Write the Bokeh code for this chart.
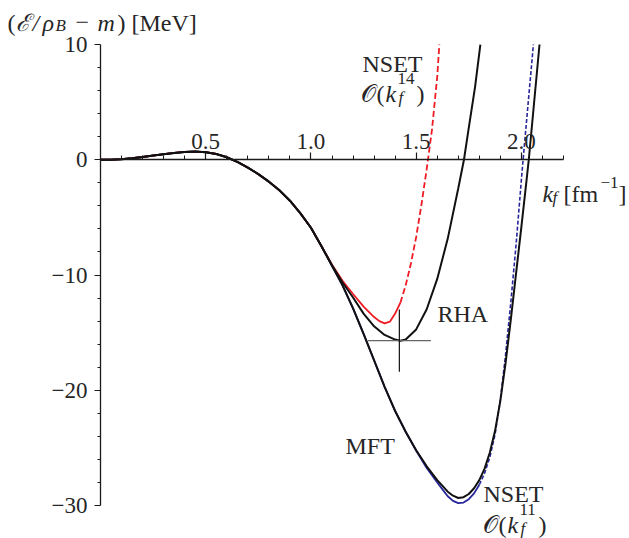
from bokeh.plotting import figure
from bokeh.models import FixedTicker, Label, Range1d
from bokeh.embed import file_html
from bokeh.resources import INLINE

# ---- data ----
# region where all four curves coincide
k_common = [0.00, 0.05, 0.10, 0.15, 0.20, 0.25, 0.30, 0.35, 0.40, 0.45, 0.50,
            0.55, 0.60, 0.65, 0.70, 0.75, 0.80, 0.85, 0.90, 0.95, 1.00, 1.05]
e_common = [0.00, 0.01, 0.05, 0.13, 0.24, 0.36, 0.48, 0.59, 0.68, 0.71, 0.66,
            0.50, 0.22, -0.18, -0.68, -1.25, -1.90, -2.65, -3.55, -4.65, -5.90, -7.50]

# MFT
k_mft = [1.10, 1.15, 1.20, 1.25, 1.30, 1.35, 1.40, 1.45, 1.50, 1.55, 1.60, 1.625,
         1.65, 1.675, 1.70, 1.725, 1.75, 1.775, 1.80, 1.825, 1.85, 1.875, 1.90,
         1.925, 1.95, 1.975, 2.00, 2.02, 2.035, 2.06, 2.086]
e_mft = [-9.20, -10.90, -12.90, -15.10, -17.40, -19.70, -21.80, -23.60, -25.20,
         -26.60, -27.80, -28.30, -28.80, -29.15, -29.35, -29.28, -29.00, -28.50,
         -27.80, -26.80, -25.40, -23.50, -20.90, -17.60, -13.80, -9.80, -5.80,
         -2.50, 0.00, 4.90, 10.00]

# RHA
k_rha = [1.10, 1.15, 1.20, 1.25, 1.30, 1.35, 1.40, 1.425, 1.45, 1.50, 1.55, 1.60,
         1.65, 1.70, 1.727, 1.75, 1.78, 1.805]
e_rha = [-9.15, -10.65, -11.95, -13.35, -14.45, -15.20, -15.60, -15.70, -15.59,
         -14.72, -12.97, -10.34, -6.84, -2.47, 0.00, 2.78, 6.35, 10.00]

# NSET O(k_f^14)
k_n14 = [1.10, 1.15, 1.20, 1.25, 1.30, 1.325, 1.35, 1.375, 1.40, 1.425, 1.45,
         1.475, 1.50, 1.525, 1.55, 1.575, 1.60, 1.61]
e_n14 = [-9.10, -10.50, -11.65, -12.75, -13.65, -14.00, -14.20, -14.05, -13.35,
         -12.40, -10.90, -9.00, -6.70, -3.90, -0.80, 2.60, 7.20, 10.00]
n14_solid_until = 1.425

# NSET O(k_f^11)
k_n11 = [1.10, 1.15, 1.20, 1.25, 1.30, 1.35, 1.40, 1.45, 1.50, 1.55, 1.60, 1.625,
         1.65, 1.675, 1.70, 1.725, 1.75, 1.775, 1.80, 1.825, 1.85, 1.875, 1.90,
         1.925, 1.95, 1.975, 2.00, 2.008, 2.03, 2.057]
e_n11 = [-9.20, -10.90, -12.90, -15.10, -17.40, -19.70, -21.80, -23.60, -25.25,
         -26.75, -28.00, -28.60, -29.20, -29.60, -29.80, -29.75, -29.45, -28.95,
         -28.20, -27.20, -25.80, -23.80, -20.80, -16.90, -12.30, -7.30, -1.70,
         0.00, 4.50, 10.00]
n11_solid_until = 1.80

# RHA minimum with uncertainty cross
rha_min_k = 1.42
rha_min_e = -15.7
rha_dk = 0.15
rha_de = 2.7

x_ticks = [0.5, 1.0, 1.5, 2.0]
x_tick_labels = ["0.5", "1.0", "1.5", "2.0"]
x_minor = [round(0.1 * i, 1) for i in range(1, 23)]
x_axis_extent = (0.0, 2.2)
y_ticks = [-30, -20, -10, 0, 10]
y_tick_labels = ["\u221230", "\u221220", "\u221210", "0", "10"]
y_minor = [-28, -26, -24, -22, -18, -16, -14, -12, -8, -6, -4, -2, 2, 4, 6, 8]
y_axis_extent = (-30.0, 10.0)

FONT = "Liberation Serif"
TXT = "#262626"
MAIN = 24
SMALL = 17

W, H = 629, 538
# view window (frame fills the whole canvas; the axes cross at the origin)
p = figure(width=W, height=H, output_backend="svg", toolbar_location=None,
           x_range=Range1d(-0.4752, 2.5136), y_range=Range1d(-32.863, 13.818),
           x_axis_location="above", min_border=0)
p.outline_line_color = None
p.xgrid.visible = False
p.ygrid.visible = False
p.background_fill_color = "white"
p.border_fill_color = "white"

xa = p.xaxis[0]
xa.fixed_location = 0
xa.bounds = x_axis_extent
xa.ticker = FixedTicker(ticks=x_ticks, minor_ticks=x_minor)
xa.major_label_overrides = dict(zip(x_ticks, x_tick_labels))
ya = p.yaxis[0]
ya.fixed_location = 0
ya.bounds = y_axis_extent
ya.ticker = FixedTicker(ticks=y_ticks, minor_ticks=y_minor)
ya.major_label_overrides = dict(zip(y_ticks, y_tick_labels))
for ax in (xa, ya):
    ax.axis_line_color = "#1a1a1a"
    ax.axis_line_width = 1.3
    ax.major_tick_line_color = "#1a1a1a"
    ax.minor_tick_line_color = "#1a1a1a"
    ax.major_tick_line_width = 1.2
    ax.minor_tick_line_width = 1.0
    ax.major_tick_in = 0
    ax.minor_tick_in = 0
    ax.major_label_text_font = FONT
    ax.major_label_text_font_size = "23px"
    ax.major_label_text_color = TXT
xa.major_tick_out = 7
xa.minor_tick_out = 4
xa.major_label_standoff = 4
ya.major_tick_out = 6
ya.minor_tick_out = 3
ya.major_label_standoff = 7

# ---- curves ----
def split(ks, es, kcut):
    a_k = [k for k in ks if k <= kcut]
    a_e = es[:len(a_k)]
    b_k = ks[len(a_k) - 1:]
    b_e = es[len(a_k) - 1:]
    return a_k, a_e, b_k, b_e

BLUE = "#26269a"
RED = "#ee1b24"
bk, be, bk2, be2 = split(k_common + k_n11, e_common + e_n11, n11_solid_until)
p.line(bk, be, line_color=BLUE, line_width=1.8)
p.line(bk2, be2, line_color=BLUE, line_width=1.6, line_dash="4 2")

rk, re_, rk2, re2 = split(k_common + k_n14, e_common + e_n14, n14_solid_until)
p.line(rk, re_, line_color=RED, line_width=1.8)
p.line(rk2, re2, line_color=RED, line_width=1.8, line_dash="6 3")

p.line(k_common + k_mft, e_common + e_mft, line_color="#111111", line_width=2)
p.line(k_common + k_rha, e_common + e_rha, line_color="#111111", line_width=2)

# uncertainty cross at RHA minimum
p.segment(x0=[rha_min_k - rha_dk], y0=[rha_min_e], x1=[rha_min_k + rha_dk], y1=[rha_min_e],
          line_color="#666666", line_width=1.2)
p.segment(x0=[rha_min_k], y0=[rha_min_e + rha_de], x1=[rha_min_k], y1=[rha_min_e - rha_de],
          line_color="#111111", line_width=1.2)

# ---- text (screen units, from the canvas' top-left corner) ----
def txt(px, py, s, size=MAIN, style="normal"):
    p.add_layout(Label(x=px, y=H - py, x_units="screen", y_units="screen", text=s,
                       text_font=FONT, text_font_size=f"{size}px",
                       text_font_style=style, text_color=TXT,
                       text_baseline="alphabetic", text_align="left"))

# y-axis title (top-left)
ty = 22
txt(7, ty, "(")
txt(15, ty, "\u2130", style="italic")
txt(32, ty, "/", style="italic")
txt(42, ty, "\u03c1", style="italic")
txt(55, ty + 3, "B", size=SMALL, style="italic")
txt(75, ty, "\u2212")
txt(97, ty, "m", style="italic")
txt(117, ty, ") [MeV]")

# x-axis title
txt(542, 193, "k", style="italic")
txt(552, 197, "f", size=SMALL, style="italic")
txt(563, 193, "[fm")
txt(600, 182, "\u22121", size=SMALL)
txt(618, 193, "]")

# curve labels
txt(362, 63, "NSET")
txt(360, 93, "\U0001D4AA")
txt(376, 93, "(")
txt(385, 93, "k", style="italic")
txt(397, 78, "14", size=SMALL)
txt(398, 97, "f", size=SMALL, style="italic")
txt(416, 93, ")")

txt(437, 313, "RHA")
txt(345, 445, "MFT")

by = 524
txt(483, 493, "NSET")
txt(482, by, "\U0001D4AA")
txt(498, by, "(")
txt(507, by, "k", style="italic")
txt(519, by - 15, "11", size=SMALL)
txt(520, by + 4, "f", size=SMALL, style="italic")
txt(538, by, ")")

open("out.html", "w").write(file_html(p, INLINE))
